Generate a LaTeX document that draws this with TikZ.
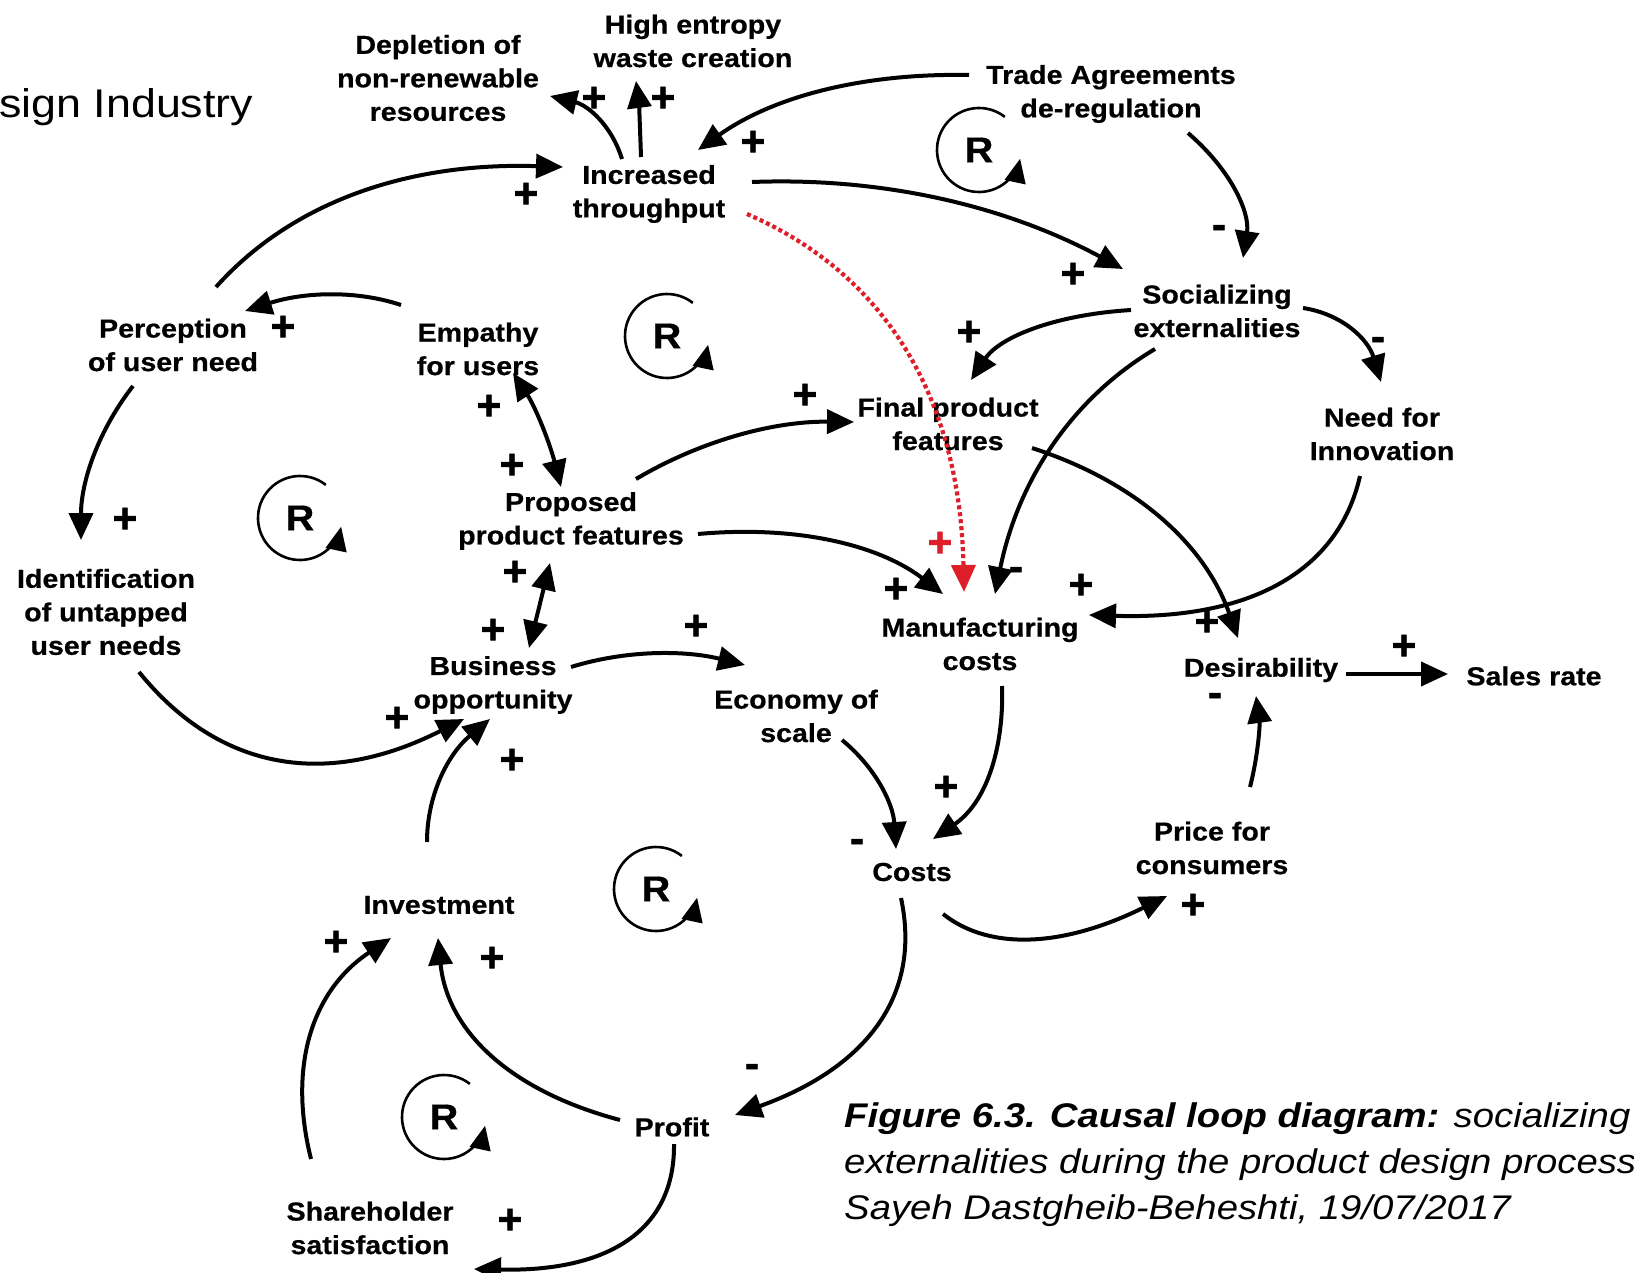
\documentclass[tikz,border=0pt]{standalone}
\usepackage{fontspec}
\setmainfont{Liberation Sans}
\newfontfamily\lblfont[FakeStretch=1.12]{Liberation Sans}
\newfontfamily\varfont[FakeStretch=1.1,FakeBold=0.6]{Liberation Sans}
\newfontfamily\sgnfont[FakeBold=1.6]{Liberation Sans}
\usetikzlibrary{arrows.meta,calc}
\definecolor{linkred}{RGB}{222,30,40}
\begin{document}
\begin{tikzpicture}[x=1pt,y=-1pt,
  var/.style={font=\varfont\bfseries\fontsize{26}{33.5}\selectfont, align=center, inner sep=0pt, yshift=-3pt},
  sgn/.style={font=\sgnfont\bfseries\fontsize{42}{42}\selectfont, inner sep=0pt, text height=29pt, text depth=0pt},
  rl/.style={font=\varfont\bfseries\fontsize{36}{36}\selectfont, inner sep=0pt},
  link/.style={line width=4pt, -{Triangle[length=27pt,width=24pt]}},
  twoway/.style={line width=4pt, {Triangle[length=27pt,width=24pt]}-{Triangle[length=27pt,width=24pt]}},
  redlink/.style={linkred, line width=4.2pt, dash pattern=on 4pt off 3pt,
    -{Triangle[length=27pt,width=24pt]}},
  looparr/.style={line width=2.6pt, -{Triangle[length=24pt,width=21pt]}}
]
\fill[white] (0,0) rectangle (1634,1273);
\useasboundingbox (0,0) rectangle (1634,1273);

% heading fragment
\node[anchor=west, inner sep=0pt, font=\lblfont\fontsize{40}{48}\selectfont] (title) at (-1,107) {sign Industry};

% variables
\node[var] (dep) at (438,75) {Depletion of\\non-renewable\\resources};
\node[var] (hig) at (693,38) {High entropy\\waste creation};
\node[var] (tra) at (1111,91) {Trade Agreements\\de-regulation};
\node[var] (inc) at (649,191) {Increased\\throughput};
\node[var] (soc) at (1217,308) {Socializing\\externalities};
\node[var] (per) at (173,342) {Perception\\of user need};
\node[var] (emp) at (478,346) {Empathy\\for users};
\node[var] (fin) at (948,421) {Final product\\features};
\node[var] (nee) at (1382,431) {Need for\\Innovation};
\node[var] (pro) at (571,518) {Proposed\\product features};
\node[var] (ide) at (106,609) {Identification\\of untapped\\user needs};
\node[var] (man) at (980,641) {Manufacturing\\costs};
\node[var] (bus) at (493,682) {Business\\opportunity};
\node[var] (des) at (1261,667) {Desirability};
\node[var] (sal) at (1534,673) {Sales rate};
\node[var] (eco) at (796,713) {Economy of\\scale};
\node[var] (pri) at (1212,845) {Price for\\consumers};
\node[var] (cos) at (912,869) {Costs};
\node[var] (inv) at (439,902) {Investment};
\node[var] (prf) at (672,1124) {Profit};
\node[var] (sha) at (370,1225) {Shareholder\\satisfaction};

% causal links
\draw[link] ($(inc)+(-27,-35)$) .. controls (611,124) and (587,105) .. ($(dep)+(112,18)$);
\draw[link] ($(inc)+(-8,-37)$) .. controls (640,127) and (639,104) .. ($(hig)+(-57,40)$);
\draw[link] ($(tra)+(-142,-19)$) .. controls (864,73) and (774,96) .. ($(inc)+(49,-44)$);
\draw[link] ($(per)+(43,-58)$) .. controls (292,202) and (408,162) .. ($(inc)+(-86,-27)$);
\draw[link] ($(inc)+(103,-12)$) .. controls (883,177) and (1006,206) .. ($(soc)+(-94,-42)$);
\draw[link] ($(tra)+(77,39)$) .. controls (1232,171) and (1250,213) .. ($(soc)+(26,-53)$);
\draw[link] ($(emp)+(-77,-44)$) .. controls (356,290) and (304,292) .. ($(per)+(72,-34)$);
\draw[link] ($(per)+(-40,41)$) .. controls (98,431) and (81,482) .. ($(ide)+(-25,-72)$);
\draw[twoway] ($(emp)+(35,24)$) .. controls (536,408) and (550,444) .. ($(pro)+(-10,-34)$);
\draw[link] ($(soc)+(-86,-1)$) .. controls (1052,315) and (999,338) .. ($(fin)+(23,-44)$);
\draw[link] ($(soc)+(86,-3)$) .. controls (1342,314) and (1368,339) .. ($(nee)+(-1,-52)$);
\draw[link] ($(soc)+(-62,38)$) .. controls (1071,399) and (1018,481) .. ($(man)+(15,-50)$);
\draw[link] ($(pro)+(65,-42)$) .. controls (702,440) and (775,421) .. ($(fin)+(-94,-2)$);
\draw[link] ($(fin)+(84,24)$) .. controls (1137,482) and (1205,545) .. ($(des)+(-23,-32)$);
\draw[link] ($(nee)+(-22,42)$) .. controls (1338,573) and (1248,620) .. ($(man)+(109,-29)$);
\draw[link] ($(pro)+(127,13)$) .. controls (797,525) and (879,545) .. ($(man)+(-37,-50)$);
\draw[redlink] ($(inc)+(98,20)$) .. controls (888,275) and (960,401) .. ($(man)+(-16,-52)$);
\draw[twoway] ($(pro)+(-21,42)$) -- ($(bus)+(36,-37)$);
\draw[link] ($(ide)+(33,60)$) .. controls (220,772) and (328,788) .. ($(bus)+(-29,34)$);
\draw[link] ($(bus)+(78,-18)$) .. controls (626,650) and (684,650) .. ($(eco)+(-51,-51)$);
\draw[link] ($(des)+(85,4)$) -- ($(sal)+(-86,-2)$);
\draw[link] ($(pri)+(38,-61)$) .. controls (1258,756) and (1260,725) .. ($(des)+(-5,26)$);
\draw[link] ($(inv)+(-12,-63)$) .. controls (427,795) and (448,754) .. ($(bus)+(-3,34)$);
\draw[link] ($(eco)+(46,24)$) .. controls (875,767) and (893,803) .. ($(cos)+(-16,-23)$);
\draw[link] ($(man)+(22,42)$) .. controls (1004,740) and (990,800) .. ($(cos)+(21,-33)$);
\draw[link] ($(cos)+(31,42)$) .. controls (991,952) and (1066,946) .. ($(pri)+(-45,48)$);
\draw[link] ($(cos)+(-11,26)$) .. controls (922,996) and (866,1068) .. ($(prf)+(63,-12)$);
\draw[link] ($(prf)+(-52,-7)$) .. controls (507,1090) and (447,1029) .. ($(inv)+(-1,33)$);
\draw[link] ($(sha)+(-59,-69)$) .. controls (287,1063) and (314,989) .. ($(inv)+(-48,33)$);
\draw[link] ($(prf)+(2,17)$) .. controls (675,1230) and (609,1272) .. ($(sha)+(104,41)$);

% link polarities
\node[sgn] (s1) at (594,97) {+};
\node[sgn] (s2) at (663,97) {+};
\node[sgn] (s3) at (753,141) {+};
\node[sgn] (s4) at (526,193) {+};
\node[sgn] (s5) at (1073,273) {+};
\node[sgn] (s6) at (1219,224) {-};
\node[sgn] (s7) at (283,326) {+};
\node[sgn] (s8) at (969,331) {+};
\node[sgn] (s9) at (1378,336) {-};
\node[sgn] (s10) at (805,394) {+};
\node[sgn] (s11) at (489,405) {+};
\node[sgn] (s12) at (512,464) {+};
\node[sgn] (s13) at (125,518) {+};
\node[sgn, text=linkred] (s14) at (940,542) {+};
\node[sgn] (s15) at (1016,566) {-};
\node[sgn] (s16) at (896,588) {+};
\node[sgn] (s17) at (1081,584) {+};
\node[sgn] (s18) at (515,571) {+};
\node[sgn] (s19) at (493,629) {+};
\node[sgn] (s20) at (1207,621) {+};
\node[sgn] (s21) at (1404,645) {+};
\node[sgn] (s22) at (696,625) {+};
\node[sgn] (s23) at (1215,692) {-};
\node[sgn] (s24) at (397,717) {+};
\node[sgn] (s25) at (512,759) {+};
\node[sgn] (s26) at (946,786) {+};
\node[sgn] (s27) at (857,838) {-};
\node[sgn] (s28) at (1193,904) {+};
\node[sgn] (s29) at (336,941) {+};
\node[sgn] (s30) at (492,957) {+};
\node[sgn] (s31) at (752,1063) {-};
\node[sgn] (s32) at (510,1219) {+};

% reinforcing loop markers
\node[rl] (r1) at (979,150) {R};
\node[rl] (r2) at (667,336) {R};
\node[rl] (r3) at (300,518) {R};
\node[rl] (r4) at (656,889) {R};
\node[rl] (r5) at (444,1117) {R};
\foreach \r in {r1,r2,r3,r4,r5}
  \draw[looparr] ($(\r)+(-52:42)$) arc[start angle=-52, end angle=-348, radius=42];

% caption
\node[anchor=west, align=left, inner sep=0pt, font=\lblfont\itshape\fontsize{34.2}{46}\selectfont] (cap) at (844,1165)
  {\textbf{Figure 6.3. Causal loop diagram:} socializing\\externalities during the product design process\\Sayeh Dastgheib-Beheshti, 19/07/2017};
\end{tikzpicture}
\end{document}
